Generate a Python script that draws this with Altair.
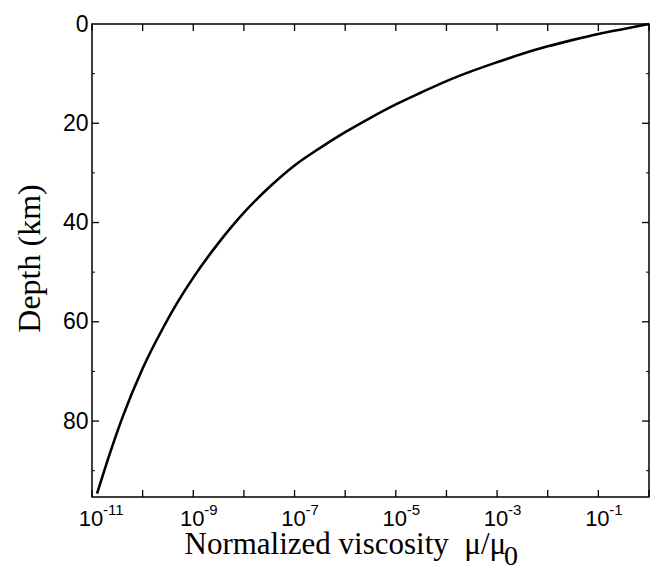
import altair as alt
import pandas as pd

# Curve: normalized viscosity (mu/mu0) vs depth (km)
viscosity = [1.0, 3.16e-1, 1e-1, 3.16e-2, 1e-2, 3.16e-3, 1e-3, 3.16e-4, 1e-4, 3.16e-5, 1e-5,
             3.16e-6, 1e-6, 3.16e-7, 1e-7, 3.16e-8, 1e-8, 3.16e-9, 1e-9, 5.01e-10,
             2.51e-10, 1e-10, 3.98e-11, 2.24e-11, 1.26e-11]
depth_km = [0.0, 1.0, 2.0, 3.2, 4.5, 6.0, 7.7, 9.5, 11.5, 13.8, 16.2,
            18.9, 21.8, 25.0, 28.5, 32.9, 38.0, 44.1, 51.1, 55.9,
            61.3, 69.4, 79.3, 86.6, 94.6]

# Axis decorations
decades = [1e-11, 1e-10, 1e-9, 1e-8, 1e-7, 1e-6, 1e-5, 1e-4, 1e-3, 1e-2, 1e-1, 1.0]
label_pos = [1e-11, 1e-9, 1e-7, 1e-5, 1e-3, 1e-1]
label_exp = ["-11", "-9", "-7", "-5", "-3", "-1"]
depth_ticks = [0, 20, 40, 60, 80]
depth_minor = [10, 30, 50, 70, 90]

W, H = 557, 473

curve = pd.DataFrame({"mu": viscosity, "depth": depth_km, "ord": list(range(len(viscosity)))})
dec_df = pd.DataFrame({"mu": decades})
lab_df = pd.DataFrame({"mu": label_pos, "exp": label_exp, "base": ["10"] * len(label_pos)})
dt_df = pd.DataFrame({"depth": depth_ticks[1:]})
dm_df = pd.DataFrame({"depth": depth_minor})

xscale = alt.Scale(type="log", domain=[1e-11, 1.0], nice=False)
yscale = alt.Scale(domain=[0, 95.3], reverse=True, nice=False, zero=False)

xaxis = alt.Axis(
    title="Normalized viscosity\u00a0\u00a0μ/μ", labels=False, ticks=False, domain=False, grid=False,
    titleFont="Liberation Serif", titleFontSize=31, titleFontWeight="normal", titleColor="black",
    titleAlign="left", titleAnchor="start", titleX=92, titleY=56, titleBaseline="alphabetic")
yaxis = alt.Axis(
    values=depth_ticks, ticks=False, domain=False, grid=False,
    labelFont="Liberation Sans", labelFontSize=23, labelColor="black", labelPadding=4,
    title="Depth (km)", titleFont="Liberation Serif", titleFontSize=32, titleFontWeight="normal",
    titleColor="black", titleX=-53, titleY=234, titleAngle=270, titleBaseline="alphabetic",
    titleAlign="center")

X = alt.X("mu:Q", scale=xscale, axis=xaxis)
Y = alt.Y("depth:Q", scale=yscale, axis=yaxis)

line = alt.Chart(curve).mark_line(color="black", strokeWidth=2.6, interpolate="monotone").encode(
    x=X, y=Y, order="ord:Q")

sub0 = alt.Chart(pd.DataFrame({"t": ["0"]})).mark_text(
    font="Liberation Serif", fontSize=28, color="black", align="left", baseline="alphabetic"
).encode(x=alt.value(412), y=alt.value(H + 68), text="t:N")

bottom_ticks = alt.Chart(dec_df).mark_rule(color="black", strokeWidth=1.3).encode(
    x=X, y=alt.value(H), y2=alt.value(H - 7))
top_ticks = alt.Chart(dec_df).mark_rule(color="black", strokeWidth=1.3).encode(
    x=X, y=alt.value(0), y2=alt.value(7))

left_ticks = alt.Chart(dt_df).mark_rule(color="black", strokeWidth=1.3).encode(
    y=Y, x=alt.value(0), x2=alt.value(7))
right_ticks = alt.Chart(dt_df).mark_rule(color="black", strokeWidth=1.3).encode(
    y=Y, x=alt.value(W), x2=alt.value(W - 7))
left_minor = alt.Chart(dm_df).mark_rule(color="black", strokeWidth=1).encode(
    y=Y, x=alt.value(0), x2=alt.value(3))
right_minor = alt.Chart(dm_df).mark_rule(color="black", strokeWidth=1).encode(
    y=Y, x=alt.value(W), x2=alt.value(W - 3))

base_lab = alt.Chart(lab_df).mark_text(
    font="Liberation Sans", fontSize=22, color="black", align="center", baseline="alphabetic", dx=-1
).encode(x=X, y=alt.value(H + 29), text="base:N")
sup_lab = alt.Chart(lab_df).mark_text(
    font="Liberation Sans", fontSize=15, color="black", align="left", baseline="alphabetic", dx=11
).encode(x=X, y=alt.value(H + 18), text="exp:N")

chart = alt.layer(
    line, bottom_ticks, top_ticks, left_ticks, right_ticks, left_minor, right_minor,
    base_lab, sup_lab, sub0
).properties(
    width=W, height=H,
    padding={"left": 84, "top": 16, "right": 2, "bottom": 75},
    autosize=alt.AutoSizeParams(type="none"),
    background="white",
).configure_view(stroke="black", strokeWidth=1.5)

chart.save("out.html", embed_options={"renderer": "svg", "actions": False})
